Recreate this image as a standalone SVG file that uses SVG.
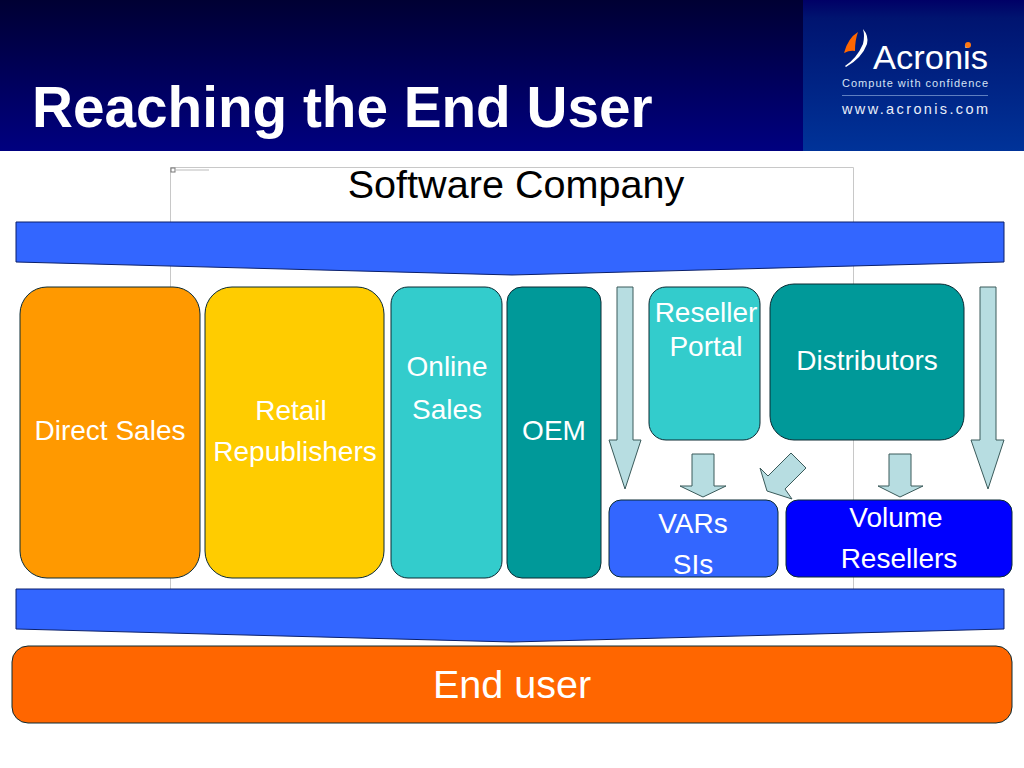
<svg xmlns="http://www.w3.org/2000/svg" width="1024" height="768" viewBox="0 0 1024 768">
<style>
text{font-family:"Liberation Sans",Arial,sans-serif;fill:#fff;text-anchor:middle}
.n{stroke:#0a2a33;stroke-width:1}
.t{font-size:28px}
.ar{fill:#b7dde1;stroke:#3a5a5a;stroke-width:1}
.bar{fill:#3366ff;stroke:#0a1f6a;stroke-width:1}
</style>
<defs>
<linearGradient id="h" x1="0" y1="0" x2="0" y2="1"><stop offset="0" stop-color="#000033"/><stop offset="1" stop-color="#000080"/></linearGradient>
<linearGradient id="h2" x1="0" y1="0" x2="0" y2="1"><stop offset="0" stop-color="#000066"/><stop offset="0.12" stop-color="#001470"/><stop offset="1" stop-color="#003399"/></linearGradient>
</defs>
<rect width="1024" height="768" fill="#fff"/>
<g id="header">
<rect width="803" height="151" fill="url(#h)"/>
<rect x="803" width="221" height="151" fill="url(#h2)"/>
<text x="32" y="127" style="text-anchor:start;font-size:56.700px;font-weight:bold">Reaching the End User</text>
</g>
<g id="logo">
<path d="M858 32Q848 38 844 53Q850 50 855 51Q855 40 858 32Z" fill="#ff6600"/>
<path d="M863 29Q869 36 867 44Q862 58 846 67L845 66Q857 58 863 44Q865 36 863 29Z" fill="#fff"/>
<text x="873" y="69" style="text-anchor:start;font-size:33.500px" textLength="115" lengthAdjust="spacingAndGlyphs">Acronis</text>
<circle cx="968" cy="45" r="3" fill="#ff7711"/>
<text x="842" y="87" style="text-anchor:start;font-size:11px;fill:#d5e2f5" textLength="146">Compute with confidence</text>
<rect x="842" y="95" width="146" height="1" fill="#5f7fc0"/>
<text x="842" y="114" style="text-anchor:start;font-size:14.500px;fill:#e8eefa" textLength="146">www.acronis.com</text>
</g>
<g id="placeholder">
<path d="M170.500 590V167.500H853.500V590" fill="none" stroke="#c8c8c8"/>
<rect x="171" y="168" width="4" height="4" fill="none" stroke="#777"/>
<rect x="176" y="169" width="33" height="2" fill="#ddd"/>
</g>
<text x="516" y="198" style="fill:#000;font-size:39.600px">Software Company</text>
<g id="connectors">
<path class="bar" d="M16 222H1004V262L512 275L16 262Z"/>
<path class="bar" d="M16 589H1004V629L512 642L16 629Z"/>
<path class="ar" d="M617 287H633V440H641L625 489L609 440H617Z"/>
<path class="ar" d="M980 287H996V440H1004L988 489L971 440H980Z"/>
<path class="ar" d="M692 454H714V486H726L703 497L680 486H692Z"/>
<path class="ar" d="M889 454H911V486H923L900 497L878 486H889Z"/>
<path class="ar" d="M791 453L806 468L785 489L792 499L767 491L760 468L768 476Z"/>
</g>
<g id="direct-sales"><rect class="n" x="20" y="287" width="180" height="291" rx="27" fill="#ff9900"/><text class="t" x="110" y="440">Direct Sales</text></g>
<g id="retail"><rect class="n" x="205" y="287" width="179" height="291" rx="27" fill="#ffcc00"/><text class="t" x="291" y="420">Retail</text><text class="t" x="295" y="461">Republishers</text></g>
<g id="online-sales"><rect class="n" x="391" y="287" width="111" height="291" rx="17" fill="#33cccc"/><text class="t" x="447" y="376">Online</text><text class="t" x="447" y="419">Sales</text></g>
<g id="oem"><rect class="n" x="507" y="287" width="94" height="291" rx="15" fill="#009999"/><text class="t" x="554" y="440">OEM</text></g>
<g id="reseller-portal"><rect class="n" x="649" y="287" width="111" height="153" rx="17" fill="#33cccc"/><text class="t" x="706" y="322">Reseller</text><text class="t" x="706" y="356">Portal</text></g>
<g id="distributors"><rect class="n" x="770" y="284" width="194" height="156" rx="24" fill="#009999"/><text class="t" x="867" y="370">Distributors</text></g>
<g id="vars"><rect class="n" x="609" y="500" width="169" height="77" rx="12" fill="#3366ff"/><text class="t" x="693" y="533">VARs</text><text class="t" x="693" y="574">SIs</text></g>
<g id="volume-resellers"><rect class="n" x="786" y="500" width="226" height="77" rx="12" fill="#0000ff"/><text class="t" x="896" y="527">Volume</text><text class="t" x="899" y="568">Resellers</text></g>
<g id="end-user"><rect class="n" x="12" y="646" width="1000" height="77" rx="16" fill="#ff6600"/><text x="512" y="698" style="font-size:39.500px">End user</text></g>
</svg>
